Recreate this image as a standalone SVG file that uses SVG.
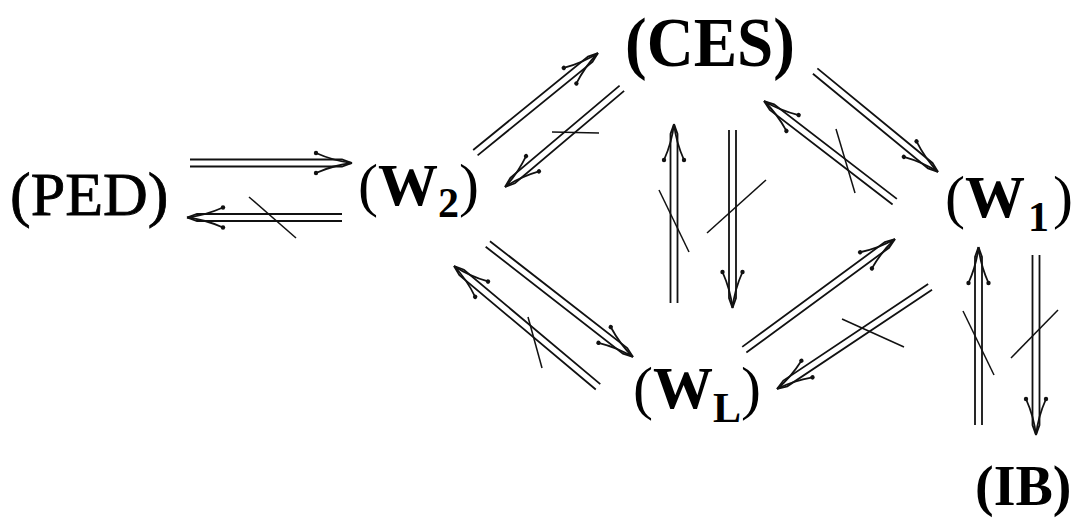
<svg xmlns="http://www.w3.org/2000/svg" width="1080" height="522" viewBox="0 0 1080 522">
<style>
.t{font-family:"Liberation Serif","Times New Roman",serif;fill:#000}
.b{font-weight:bold}
.dl{fill:none;stroke:#111;stroke-width:1.8}
.hd{fill:none;stroke:#111;stroke-width:1.8}
.dot{fill:#111}
.sl{stroke:#111;stroke-width:1.5}
</style>
<defs>
<g id="ah">
<path class="hd" d="M0,0 Q-18,-2 -36,-10 M0,0 Q-18,2 -36,10"/>
<circle class="dot" cx="-36" cy="-10" r="2.2"/>
<circle class="dot" cx="-36" cy="10" r="2.2"/>
</g>
</defs>
<rect width="1080" height="522" fill="#fff"/>
<g id="PED"><text class="t" x="10" y="215" font-size="62" stroke="#000" stroke-width="0.8">(PED)</text></g>
<g id="CES"><text class="t b" x="625" y="66" font-size="70" textLength="170" lengthAdjust="spacingAndGlyphs">(CES)</text></g>
<g id="W2"><text class="t" x="358" y="205" font-size="60">(<tspan class="b">W</tspan><tspan class="b" font-size="42" dy="12">2</tspan><tspan dy="-12">)</tspan></text></g>
<g id="W1"><text class="t" x="945" y="217" font-size="60">(<tspan class="b">W</tspan><tspan class="b" font-size="42" dy="14" dx="3">1</tspan><tspan dy="-14" dx="4">)</tspan></text></g>
<g id="WL"><text class="t" x="633" y="408" font-size="60">(<tspan class="b">W</tspan><tspan class="b" font-size="42" dy="14">L</tspan><tspan dy="-14">)</tspan></text></g>
<g id="IB"><text class="t b" x="975" y="505" font-size="56">(IB)</text></g>
<g id="connectors">
<g transform="translate(352,163)"><path class="dl" d="M-162,-3.5 H-10 L0,0 M-162,3.5 H-10 L0,0"/><use href="#ah"/></g>
<g transform="translate(187,217.5) rotate(180)"><path class="dl" d="M-155,-3.5 H-10 L0,0 M-155,3.5 H-10 L0,0"/><use href="#ah"/></g>
<g transform="translate(598,53) rotate(-39.1)"><path class="dl" d="M-158,-3.5 H-10 L0,0 M-158,3.5 H-10 L0,0"/><use href="#ah"/></g>
<g transform="translate(505,187) rotate(139.8)"><path class="dl" d="M-153,-3.5 H-10 L0,0 M-153,3.5 H-10 L0,0"/><use href="#ah"/></g>
<g transform="translate(674,124) rotate(-90)"><path class="dl" d="M-179,-3.5 H-10 L0,0 M-179,3.5 H-10 L0,0"/><use href="#ah"/></g>
<g transform="translate(732.5,308) rotate(90)"><path class="dl" d="M-178,-3.5 H-10 L0,0 M-178,3.5 H-10 L0,0"/><use href="#ah"/></g>
<g transform="translate(938,172) rotate(39.4)"><path class="dl" d="M-159,-3.5 H-10 L0,0 M-159,3.5 H-10 L0,0"/><use href="#ah"/></g>
<g transform="translate(764,101) rotate(-142.4)"><path class="dl" d="M-165,-3.5 H-10 L0,0 M-165,3.5 H-10 L0,0"/><use href="#ah"/></g>
<g transform="translate(633,357) rotate(37.9)"><path class="dl" d="M-184,-3.5 H-10 L0,0 M-184,3.5 H-10 L0,0"/><use href="#ah"/></g>
<g transform="translate(454,266) rotate(-140)"><path class="dl" d="M-188,-3.5 H-10 L0,0 M-188,3.5 H-10 L0,0"/><use href="#ah"/></g>
<g transform="translate(895,239) rotate(-36.3)"><path class="dl" d="M-187,-3.5 H-10 L0,0 M-187,3.5 H-10 L0,0"/><use href="#ah"/></g>
<g transform="translate(777,389) rotate(146.3)"><path class="dl" d="M-184,-3.5 H-10 L0,0 M-184,3.5 H-10 L0,0"/><use href="#ah"/></g>
<g transform="translate(978.5,247) rotate(-90)"><path class="dl" d="M-178,-3.5 H-10 L0,0 M-178,3.5 H-10 L0,0"/><use href="#ah"/></g>
<g transform="translate(1036,435) rotate(90)"><path class="dl" d="M-180,-3.5 H-10 L0,0 M-180,3.5 H-10 L0,0"/><use href="#ah"/></g>
<line class="sl" x1="249" y1="197" x2="296" y2="238"/>
<line class="sl" x1="552" y1="132" x2="599" y2="133"/>
<line class="sl" x1="659" y1="190" x2="689" y2="252"/>
<line class="sl" x1="707" y1="233" x2="766" y2="180"/>
<line class="sl" x1="836" y1="129" x2="855" y2="193"/>
<line class="sl" x1="528" y1="317" x2="542" y2="368"/>
<line class="sl" x1="842" y1="319" x2="904" y2="347"/>
<line class="sl" x1="963" y1="311" x2="994" y2="375"/>
<line class="sl" x1="1011" y1="358" x2="1058" y2="310"/>
</g>
</svg>
